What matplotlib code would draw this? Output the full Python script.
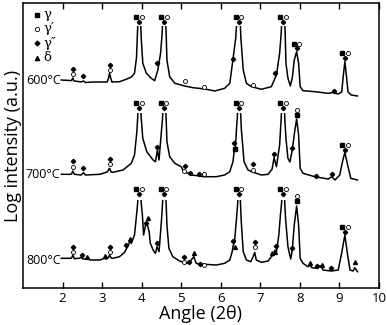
import numpy as np
import matplotlib
matplotlib.use("Agg")
import matplotlib.pyplot as plt
from matplotlib.patches import Rectangle

plt.rcParams['font.family'] = ['Open Sans', 'DejaVu Sans']

# traced XRD patterns (2theta, offset log intensity)
x600 = [1.97, 2.18, 2.23, 2.26, 2.29, 2.40, 2.47, 2.53, 2.58, 2.77, 2.94, 3.13, 3.17, 3.19, 3.21, 3.25,
        3.44, 3.61, 3.74, 3.82, 3.87, 3.89, 3.94, 3.99, 4.03, 4.12, 4.245, 4.33, 4.41, 4.48, 4.52, 4.57,
        4.62, 4.64, 4.71, 4.84, 5.09, 5.30, 5.60, 5.85, 6.10, 6.23, 6.31, 6.38, 6.46, 6.51, 6.57, 6.65,
        6.78, 7.03, 7.28, 7.41, 7.49, 7.53, 7.58, 7.63, 7.65, 7.70, 7.76, 7.81, 7.86, 7.92, 7.97, 8.01,
        8.08, 8.38, 8.72, 8.84, 8.97, 9.06, 9.10, 9.14, 9.18, 9.22, 9.30, 9.46]
y600 = [208, 207.5, 207.5, 210, 207, 206.5, 206, 207, 205.5, 206, 206, 206, 211, 215, 211, 206,
        206.3, 208.7, 211, 214.7, 230, 250, 300, 250, 224.7, 214.7, 209.7, 207.3, 218, 234.7, 255, 300,
        255, 228, 211.3, 204.7, 202, 200.3, 199, 197, 199.7, 204.7, 228.7, 250, 300, 250, 218, 204.7,
        201.3, 198.7, 201.3, 213, 234.7, 255, 300, 255, 224.7, 210, 202, 210, 228, 236.3, 225, 201.3,
        197.3, 196.3, 194.7, 195.5, 194, 196, 212, 226.3, 212, 196, 193, 192]

x700 = [1.97, 2.18, 2.23, 2.26, 2.30, 2.47, 2.53, 2.58, 2.94, 3.11, 3.15, 3.19, 3.23, 3.27, 3.53, 3.74,
        3.82, 3.88, 3.90, 3.94, 3.99, 4.03, 4.13, 4.29, 4.35, 4.40, 4.44, 4.50, 4.53, 4.57, 4.62, 4.64,
        4.71, 4.84, 5.00, 5.07, 5.17, 5.26, 5.47, 5.57, 5.89, 6.10, 6.23, 6.31, 6.35, 6.37, 6.40, 6.42,
        6.46, 6.51, 6.52, 6.59, 6.69, 6.82, 7.03, 7.20, 7.30, 7.35, 7.41, 7.49, 7.53, 7.58, 7.62, 7.65,
        7.70, 7.75, 7.81, 7.87, 7.92, 7.97, 8.01, 8.08, 8.38, 8.72, 8.81, 8.89, 9.01, 9.08, 9.14, 9.21,
        9.29, 9.46]
y700 = [113.7, 113.7, 114, 117, 113.7, 113, 115.3, 113, 113.7, 115.7, 117, 119.7, 116, 115.7, 118, 124.7,
        133, 156.3, 170, 210, 170, 149.7, 136.3, 128, 126.3, 138, 128, 156.3, 170, 210, 170, 146.3,
        131.3, 124.7, 121.3, 116.3, 114.7, 113, 112, 111.3, 111.3, 113, 116.3, 126.3, 139.7, 138, 159.7, 170,
        210, 170, 159.7, 126.3, 118, 115.7, 113, 113.7, 119, 130.3, 121.3, 143, 170, 210, 170, 149.7,
        129.7, 126, 138, 156.3, 169, 153, 119.7, 114.7, 111.3, 109, 111.3, 108, 113, 126.3, 135.7, 123,
        109.7, 108]

x800 = [1.97, 2.18, 2.23, 2.26, 2.30, 2.40, 2.47, 2.52, 2.60, 2.64, 2.70, 2.94, 3.06, 3.12, 3.16, 3.19,
        3.23, 3.27, 3.44, 3.57, 3.61, 3.65, 3.70, 3.74, 3.82, 3.88, 3.90, 3.94, 3.99, 4.02, 4.05, 4.10,
        4.135, 4.19, 4.22, 4.29, 4.35, 4.39, 4.44, 4.50, 4.53, 4.57, 4.62, 4.64, 4.69, 4.79, 4.96, 5.06,
        5.13, 5.21, 5.30, 5.32, 5.38, 5.47, 5.60, 5.89, 6.10, 6.23, 6.29, 6.31, 6.35, 6.40, 6.43, 6.46,
        6.50, 6.52, 6.57, 6.65, 6.76, 6.82, 6.86, 6.90, 7.03, 7.20, 7.28, 7.33, 7.37, 7.41, 7.47, 7.51,
        7.54, 7.58, 7.62, 7.64, 7.70, 7.77, 7.81, 7.86, 7.92, 7.97, 8.01, 8.08, 8.21, 8.25, 8.31, 8.42,
        8.48, 8.53, 8.59, 8.80, 8.97, 9.05, 9.14, 9.21, 9.27, 9.35, 9.39, 9.46]
y800 = [29.7, 29.7, 30, 33, 29.3, 29.7, 30.3, 29, 29, 30.3, 28, 28, 29.7, 29, 30.5, 33,
        30, 29.7, 31.3, 35.7, 39, 41.3, 46.3, 44.7, 53, 76.3, 85, 120, 85, 73, 53, 63,
        64.7, 56.3, 44.7, 38, 34.7, 41.3, 36.3, 66.3, 85, 120, 85, 63, 39.7, 31.3, 27, 25.7,
        24.7, 25.7, 30.3, 31.3, 24.7, 23.7, 23.7, 23, 24.7, 28, 36.3, 41.3, 46.3, 69.7, 85, 120,
        85, 66.3, 36.3, 28, 26.3, 31.3, 35.7, 28, 25.7, 27, 31.3, 33, 38, 36.3, 53, 73,
        85, 120, 85, 69.7, 41.3, 29, 38, 63, 82, 63, 29.7, 24.7, 21.3, 23, 20.3, 19.7,
        21.3, 22.3, 18, 17, 18, 33, 53, 33, 18, 17, 20.3, 16.3]

curves = [(x600, y600, 262, '600°C', 207),
          (x700, y700, 175, '700°C', 114),
          (x800, y800, 88, '800°C', 28)]

# phase markers
sq_x = [3.85, 4.49, 6.38, 7.49, 7.85, 9.06,
        3.86, 4.48, 6.39, 6.37, 7.50, 7.92, 9.06,
        3.86, 4.50, 6.39, 7.51, 7.92, 9.06]
sq_y = [271, 271, 271, 271, 244, 235.3,
        184.7, 184.7, 184.7, 139, 184.7, 173, 143,
        98.7, 98.7, 98.7, 98.7, 87, 61.3]
ci_x = [2.26, 3.19, 4.02, 4.64, 5.09, 5.58, 6.52, 6.82, 7.65, 7.99, 9.21,
        2.26, 3.19, 4.00, 4.62, 5.06, 5.58, 6.52, 6.82, 7.64, 7.92, 9.21,
        2.26, 3.19, 4.01, 4.62, 5.06, 5.58, 6.52, 6.86, 7.65, 7.92, 9.21]
ci_y = [213.7, 218, 271, 271, 207, 201.3, 271, 203, 271, 244, 235.3,
        121.3, 123.7, 184.7, 184.7, 117, 114, 184.7, 118, 184.7, 178, 143,
        35.7, 35.7, 98.7, 98.7, 25.7, 23, 98.7, 40.7, 98.7, 92.3, 61.3]
di_x = [2.26, 2.53, 3.19, 3.94, 4.39, 4.57, 6.30, 6.46, 7.37, 7.58, 7.92, 8.86, 9.14,
        2.26, 2.53, 3.19, 3.94, 4.40, 4.57, 5.09, 5.23, 5.45, 6.33, 6.46, 6.82, 7.35, 7.58,
        7.81, 8.42, 8.81, 9.14,
        2.26, 2.50, 3.19, 3.60, 3.94, 4.10, 4.39, 4.57, 5.07, 5.20, 5.47, 6.31, 6.46, 6.86,
        7.41, 7.58, 7.81, 8.44, 8.80, 9.14]
di_y = [218.7, 212, 223, 266, 224.7, 266, 228.7, 266, 215.3, 266, 239.7, 197.3, 230.3,
        127, 120.3, 129, 179.7, 141.3, 179.7, 122, 115.3, 114, 145.3, 179.7, 124, 134, 179.7,
        139.7, 112.3, 114.3, 138,
        41.3, 33, 41.3, 43, 93.7, 64.7, 44.7, 93.7, 31.3, 25.7, 23.7, 47, 93.7, 46.3,
        42.5, 93.7, 39.7, 22.3, 19.7, 56.3]
tr_x = [2.63, 3.07, 3.70, 4.16, 5.32, 6.35, 7.29, 7.38, 8.25, 8.55, 9.39]
tr_y = [31.3, 32, 49, 69.7, 34.7, 41.3, 35, 36, 24.7, 23, 25.7]

legend_labels = ['γ', 'γ′', 'γ″', 'δ']
legend_y = [273, 259, 244.5, 230]

fig = plt.figure(figsize=(3.87, 3.25), dpi=100)
ax = fig.add_axes([0.0594, 0.1138, 0.9196, 0.877])

for xs, ys, cap, lab, ly in curves:
    line, = ax.plot(xs, ys, color='k', lw=1.1, solid_joinstyle='round')
    line.set_clip_path(Rectangle((0, -10), 12, cap + 10, transform=ax.transData))
    ax.text(1.95, ly, lab, ha='right', va='center', fontsize=9)

mk = dict(ls='none', color='k', clip_on=False)
ax.plot(sq_x, sq_y, marker='s', ms=2.4, **mk)
ax.plot(ci_x, ci_y, marker='o', ms=2.9, mfc='white', mec='k', mew=0.6, **mk)
ax.plot(di_x, di_y, marker='D', ms=2.2, **mk)
ax.plot(tr_x, tr_y, marker='^', ms=2.8, **mk)

# legend drawn by hand
ax.plot([1.35], [legend_y[0]], marker='s', ms=2.6, **mk)
ax.plot([1.35], [legend_y[1]], marker='o', ms=3.1, mfc='white', mec='k', mew=0.6, **mk)
ax.plot([1.35], [legend_y[2]], marker='D', ms=2.4, **mk)
ax.plot([1.35], [legend_y[3]], marker='^', ms=3.0, **mk)
for lab, ly in zip(legend_labels, legend_y):
    ax.text(1.52, ly, lab, ha='left', va='center', fontsize=9.5, family=['DejaVu Serif'])

ax.set_xlim(1, 10)
ax.set_ylim(0, 285)
ax.set_xticks(range(2, 11))
ax.set_yticks([])
ax.tick_params(axis='x', direction='in', top=True, length=4, width=1, labelsize=9.5, pad=3)
for s in ax.spines.values():
    s.set_linewidth(1.1)
ax.set_xlabel('Angle (2θ)', fontsize=13, labelpad=0)
ax.set_ylabel('Log intensity (a.u.)', fontsize=13, labelpad=1)

fig.savefig('out.png', dpi=100)
